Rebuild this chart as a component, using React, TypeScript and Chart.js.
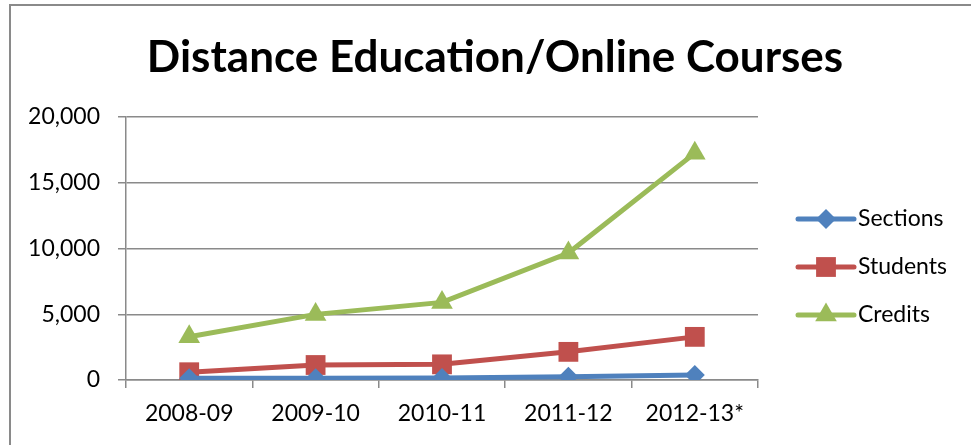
import React, { useEffect, useRef } from "react";
import { Chart, registerables } from "chart.js";

Chart.register(...registerables);

const categories = ["2008-09", "2009-10", "2010-11", "2011-12", "2012-13*"];
const sections = [130, 140, 160, 240, 380];
const students = [590, 1140, 1190, 2140, 3280];
const credits = [3290, 4990, 5900, 9660, 17250];
const seriesNames = ["Sections", "Students", "Credits"];
const yTicks = [0, 5000, 10000, 15000, 20000];
const titleText = "Distance Education/Online Courses";

const FONT = "Lato, 'Open Sans', sans-serif";

const decorPlugin = {
  id: "decor",
  beforeDraw(chart: any) {
    const ctx = chart.ctx;
    ctx.save();
    ctx.fillStyle = "#fff";
    ctx.fillRect(0, 0, chart.width, chart.height);
    ctx.strokeStyle = "#8a8a8a";
    ctx.lineWidth = 2;
    ctx.strokeRect(10, 5, chart.width + 20, chart.height + 20);
    ctx.fillStyle = "#000";
    ctx.font = `bold 44px ${FONT}`;
    ctx.textAlign = "center";
    ctx.textBaseline = "alphabetic";
    ctx.fillText(titleText, 495, 72);
    ctx.restore();
  },
  afterDraw(chart: any) {
    const ctx = chart.ctx;
    const x0 = 798;
    const x1 = 854;
    const ys = [219, 267, 315];
    chart.data.datasets.forEach((ds: any, i: number) => {
      const y = ys[i];
      ctx.save();
      ctx.strokeStyle = ds.borderColor;
      ctx.lineWidth = 5;
      ctx.lineCap = "round";
      ctx.beginPath();
      ctx.moveTo(x0, y);
      ctx.lineTo(x1, y);
      ctx.stroke();
      ctx.restore();
      ctx.save();
      ctx.fillStyle = ds.backgroundColor;
      const cx = (x0 + x1) / 2;
      const r = ds.pointRadius;
      ctx.beginPath();
      if (ds.pointStyle === "rectRot") {
        ctx.moveTo(cx, y - r);
        ctx.lineTo(cx + r, y);
        ctx.lineTo(cx, y + r);
        ctx.lineTo(cx - r, y);
      } else if (ds.pointStyle === "rect") {
        const s = r * Math.SQRT1_2;
        ctx.rect(cx - s, y - s, 2 * s, 2 * s);
      } else {
        for (let k = 0; k < 3; k++) {
          const a = (k * 2 * Math.PI) / 3;
          ctx.lineTo(cx + Math.sin(a) * r, y - Math.cos(a) * r);
        }
      }
      ctx.closePath();
      ctx.fill();
      ctx.restore();
      ctx.save();
      ctx.fillStyle = "#000";
      ctx.font = `23px ${FONT}`;
      ctx.textAlign = "left";
      ctx.textBaseline = "middle";
      ctx.fillText(ds.label, x1 + 4, y);
      ctx.restore();
    });
  },
};

export default function App() {
  const ref = useRef<HTMLCanvasElement>(null);
  useEffect(() => {
    if (!ref.current) return;
    const colors = ["#4F81BD", "#C0504D", "#9BBB59"];
    const styles = ["rectRot", "rect", "triangle"];
    const radii = [10, 14, 12.5];
    const values = [sections, students, credits];
    const chart = new Chart(ref.current, {
      type: "line",
      data: {
        labels: categories,
        datasets: values.map((v, i) => ({
          label: seriesNames[i],
          data: v,
          borderColor: colors[i],
          backgroundColor: colors[i],
          borderWidth: 5,
          pointStyle: styles[i] as any,
          pointRadius: radii[i],
          pointBorderWidth: 0,
          pointBackgroundColor: colors[i],
          tension: 0,
        })),
      },
      plugins: [decorPlugin],
      options: {
        animation: false,
        responsive: false,
        devicePixelRatio: 1,
        layout: { padding: { left: 0, right: 213, top: 117, bottom: 0 } },
        plugins: {
          legend: { display: false },
          tooltip: { enabled: false },
          title: { display: false },
        },
        scales: {
          x: {
            offset: true,
            grid: {
              offset: true,
              drawOnChartArea: false,
              drawTicks: true,
              tickLength: 8,
              color: "#8a8a8a",
              lineWidth: 1.5,
            },
            border: { display: true, color: "#8a8a8a", width: 1.5 },
            ticks: {
              color: "#000",
              font: { family: FONT, size: 23 },
              padding: 12,
              maxRotation: 0,
            },
            afterFit(scale: any) {
              scale.height = 65;
            },
          },
          y: {
            min: 0,
            max: 20000,
            afterBuildTicks(scale: any) {
              scale.ticks = yTicks.map((v) => ({ value: v }));
            },
            grid: {
              color: "#8a8a8a",
              lineWidth: 1.5,
              tickLength: 8,
              drawTicks: true,
            },
            border: { display: true, color: "#8a8a8a", width: 1.5 },
            ticks: {
              color: "#000",
              font: { family: FONT, size: 23 },
              padding: 18,
              callback: (v: any) => Number(v).toLocaleString("en-US"),
            },
            afterFit(scale: any) {
              scale.width = 126;
            },
          },
        },
      },
    });
    return () => chart.destroy();
  }, []);
  return (
    <div style={{ position: "absolute", left: 0, top: 0, width: 971, height: 445 }}>
      <canvas ref={ref} width={971} height={445} style={{ width: 971, height: 445 }} />
    </div>
  );
}
